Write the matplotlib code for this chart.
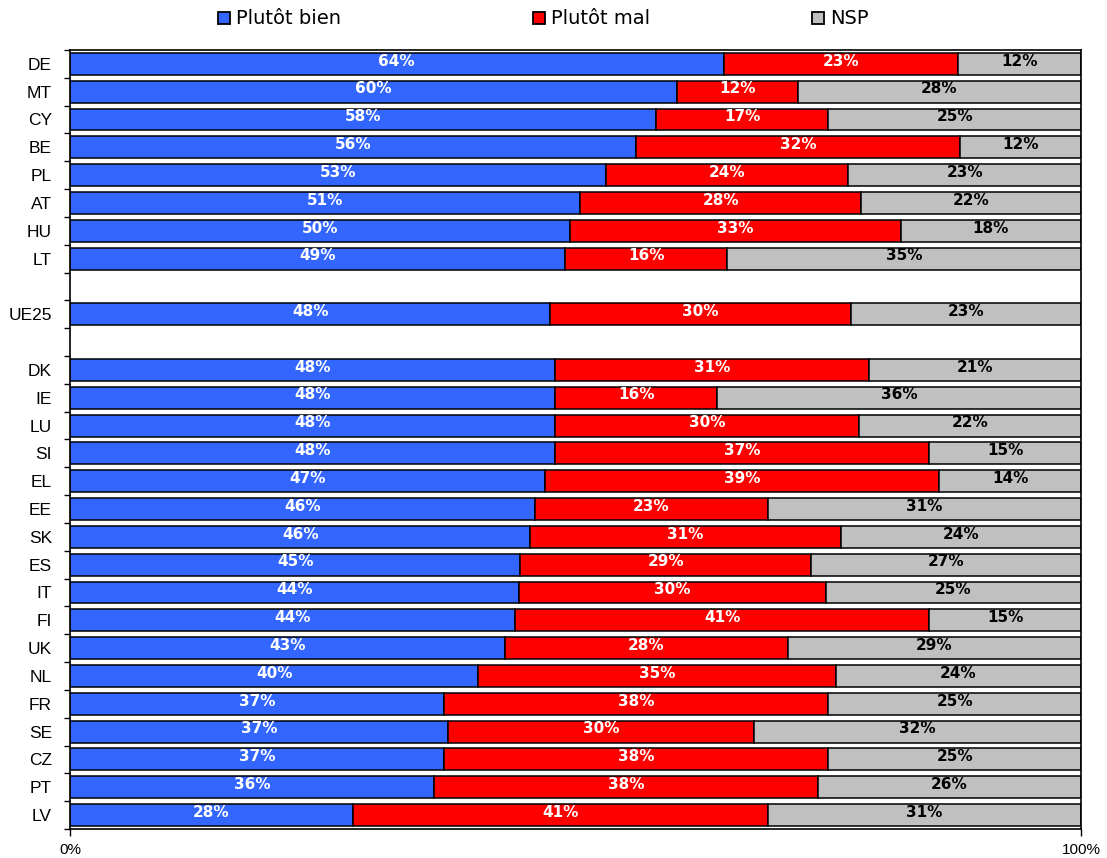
import matplotlib.pyplot as plt
import numpy as np
from matplotlib.patches import Rectangle

plt.rcParams['font.family'] = ['Liberation Sans', 'DejaVu Sans']

# blank strings keep an empty row around the EU average
countries = ['DE', 'MT', 'CY', 'BE', 'PL', 'AT', 'HU', 'LT', '', 'UE25', '',
             'DK', 'IE', 'LU', 'SI', 'EL', 'EE', 'SK', 'ES', 'IT', 'FI', 'UK',
             'NL', 'FR', 'SE', 'CZ', 'PT', 'LV']
bien = [64, 60, 58, 56, 53, 51, 50, 49, None, 48, None,
        48, 48, 48, 48, 47, 46, 46, 45, 44, 44, 43, 40, 37, 37, 37, 36, 28]
mal = [23, 12, 17, 32, 24, 28, 33, 16, None, 30, None,
       31, 16, 30, 37, 39, 23, 31, 29, 30, 41, 28, 35, 38, 30, 38, 38, 41]
nsp = [12, 28, 25, 12, 23, 22, 18, 35, None, 23, None,
       21, 36, 22, 15, 14, 31, 24, 27, 25, 15, 29, 24, 25, 32, 25, 26, 31]

series = ['Plutôt bien', 'Plutôt mal', 'NSP']
colors = ['#3366ff', '#ff0000', '#c0c0c0']
text_colors = ['white', 'white', 'black']


def draw_legend(fig):
    W, H = 1107.0, 858.0
    xs = [218, 533, 812]  # left edge of each key box, px
    for x, c, lab in zip(xs, colors, series):
        fig.patches.append(Rectangle((x / W, 1 - 24 / H), 12 / W, 12 / H,
                                     transform=fig.transFigure, facecolor=c,
                                     edgecolor='black', linewidth=1.3))
        fig.text((x + 18) / W, 1 - 18.5 / H, lab, ha='left', va='center',
                 fontsize=14, family='DejaVu Sans')


def draw_pic():
    fig = plt.figure(figsize=(11.07, 8.58), dpi=100)
    ax = fig.add_axes([0.0632, 0.0338, 0.9133, 0.908])

    for row, name in enumerate(countries):
        if not name:
            continue
        vals = [bien[row], mal[row], nsp[row]]
        total = float(sum(vals))
        left = 0.0
        for k, v in enumerate(vals):
            w = v / total * 100  # 100% stacked
            ax.barh(row, w, left=left, height=0.79, color=colors[k],
                    edgecolor='black', linewidth=1.1)
            ax.text(left + w / 2, row - 0.1, '%d%%' % v, ha='center', va='center',
                    color=text_colors[k], fontsize=11, fontweight='bold',
                    family='DejaVu Sans')
            left += w

    ax.set_xlim(0, 100)
    ax.set_ylim(len(countries) - 0.5, -0.5)
    ax.set_xticks([0, 100])
    ax.set_xticklabels(['0%', '100%'], fontsize=11)
    ax.set_yticks(np.arange(len(countries)))
    ax.set_yticklabels(countries, fontsize=12.5)
    ax.set_yticks(np.arange(len(countries) + 1) - 0.5, minor=True)
    ax.tick_params(axis='y', which='major', length=0, pad=13)
    ax.tick_params(axis='y', which='minor', length=4, width=1, direction='out')
    ax.tick_params(axis='x', length=5, width=1, pad=5)
    for s in ax.spines.values():
        s.set_linewidth(1.2)

    draw_legend(fig)
    fig.savefig('out.png', dpi=100)


if __name__ == "__main__":
    draw_pic()
